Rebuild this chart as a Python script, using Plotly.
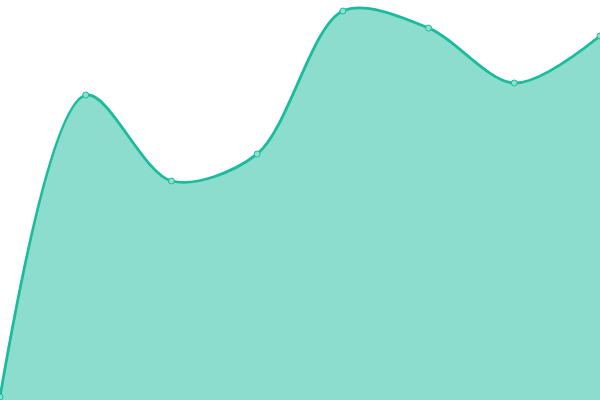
import plotly.graph_objects as go

# valores (altura sobre la base, en px)
x_vals = [0, 1, 2, 3, 4, 5, 6, 7]
y_vals = [3, 305, 219, 246, 389, 372, 317, 364]

line_color = "#1abc9c"
fill_color = "rgba(26,188,156,0.5)"

fig = go.Figure()
fig.add_trace(go.Scatter(
    x=x_vals, y=y_vals,
    mode="lines+markers",
    line=dict(color=line_color, width=2.8, shape="spline", smoothing=0.9),
    fill="tozeroy",
    fillcolor=fill_color,
    marker=dict(size=6, color="#8be0cf", line=dict(color=line_color, width=1)),
    hoverinfo="skip",
    cliponaxis=False,
))

fig.update_layout(
    width=600, height=400,
    margin=dict(l=0, r=0, t=0, b=0),
    paper_bgcolor="white", plot_bgcolor="white",
    showlegend=False,
    xaxis=dict(range=[0, 7], visible=False),
    yaxis=dict(range=[0, 400], visible=False),
)

# quitar el margen del body para que el grafico ocupe toda la ventana
fig.write_html(
    "out.html",
    config={"displayModeBar": False},
    post_script="document.body.style.margin='0';document.body.style.overflow='hidden';",
)
